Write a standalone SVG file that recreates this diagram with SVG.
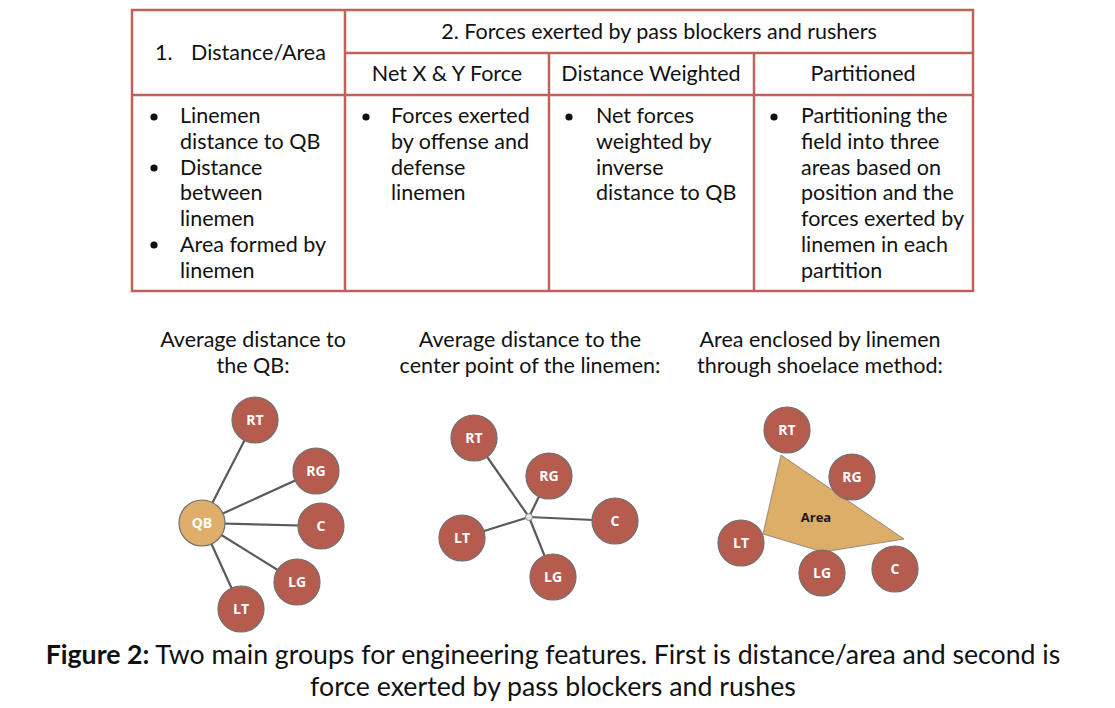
<svg xmlns="http://www.w3.org/2000/svg" width="1115" height="708" viewBox="0 0 1115 708">
  <style>
    .t { font-family: Lato, "Open Sans", "Liberation Sans", sans-serif; font-size: 21.5px; fill: #111; }
    .cap { font-family: Lato, "Open Sans", "Liberation Sans", sans-serif; font-size: 26.7px; fill: #111; }
    .grid { stroke: #c0615a; stroke-width: 2.5; fill: none; }
    .node { fill: #b65c4f; stroke: #6f6f6f; stroke-width: 1.2; }
    .qb { fill: #dfae6a; stroke: #6f6f6f; stroke-width: 1.2; }
    .lbl { font-family: "Open Sans", "Noto Sans", "Liberation Sans", sans-serif; font-size: 14px; font-weight: bold; fill: #fff; text-anchor: middle; }
    .edge { stroke: #5a5a5a; stroke-width: 2.2; stroke-linecap: round; }
  </style>

  <rect width="1115" height="708" fill="#fff"/>

  <!-- feature table -->
  <g id="table">
    <rect class="grid" x="132" y="10" width="841" height="281"/>
    <line class="grid" x1="345" y1="10" x2="345" y2="291"/>
    <line class="grid" x1="345" y1="53" x2="973" y2="53"/>
    <line class="grid" x1="132" y1="95" x2="973" y2="95"/>
    <line class="grid" x1="549" y1="53" x2="549" y2="291"/>
    <line class="grid" x1="754" y1="53" x2="754" y2="291"/>

    <text class="t" x="155" y="60">1.</text>
    <text class="t" x="191" y="60">Distance/Area</text>
    <text class="t" x="659" y="39" text-anchor="middle">2. Forces exerted by pass blockers and rushers</text>
    <text class="t" x="447" y="81" text-anchor="middle">Net X &amp; Y Force</text>
    <text class="t" x="651" y="81" text-anchor="middle">Distance Weighted</text>
    <text class="t" x="863" y="81" text-anchor="middle">Partitioned</text>

    <g class="t">
      <circle cx="154" cy="117" r="3.6" fill="#111"/>
      <circle cx="154" cy="168" r="3.6" fill="#111"/>
      <circle cx="154" cy="245" r="3.6" fill="#111"/>
      <text x="180" y="123">Linemen</text>
      <text x="180" y="149">distance to QB</text>
      <text x="180" y="175">Distance</text>
      <text x="180" y="200">between</text>
      <text x="180" y="226">linemen</text>
      <text x="180" y="252">Area formed by</text>
      <text x="180" y="278">linemen</text>

      <circle cx="366" cy="117" r="3.6" fill="#111"/>
      <text x="391" y="123">Forces exerted</text>
      <text x="391" y="149">by offense and</text>
      <text x="391" y="175">defense</text>
      <text x="391" y="200">linemen</text>

      <circle cx="569" cy="117" r="3.6" fill="#111"/>
      <text x="596" y="123">Net forces</text>
      <text x="596" y="149">weighted by</text>
      <text x="596" y="175">inverse</text>
      <text x="596" y="200">distance to QB</text>

      <circle cx="774" cy="117" r="3.6" fill="#111"/>
      <text x="801" y="123">Partitioning the</text>
      <text x="801" y="149">field into three</text>
      <text x="801" y="175">areas based on</text>
      <text x="801" y="200">position and the</text>
      <text x="801" y="226">forces exerted by</text>
      <text x="801" y="252">linemen in each</text>
      <text x="801" y="278">partition</text>
    </g>
  </g>

  <!-- panel titles -->
  <g id="titles" class="t" text-anchor="middle">
    <text x="253" y="347">Average distance to</text>
    <text x="253" y="373">the QB:</text>
    <text x="530" y="347">Average distance to the</text>
    <text x="530" y="373">center point of the linemen:</text>
    <text x="820" y="347">Area enclosed by linemen</text>
    <text x="820" y="373">through shoelace method:</text>
  </g>

  <!-- connectors -->
  <g id="connectors">
    <line class="edge" x1="202" y1="523" x2="255" y2="420"/>
    <line class="edge" x1="202" y1="523" x2="316" y2="471"/>
    <line class="edge" x1="202" y1="523" x2="321" y2="526"/>
    <line class="edge" x1="202" y1="523" x2="297" y2="582"/>
    <line class="edge" x1="202" y1="523" x2="241" y2="609"/>

    <line class="edge" x1="529" y1="517" x2="474" y2="438"/>
    <line class="edge" x1="529" y1="517" x2="549" y2="476"/>
    <line class="edge" x1="529" y1="517" x2="615" y2="521"/>
    <line class="edge" x1="529" y1="517" x2="462" y2="538"/>
    <line class="edge" x1="529" y1="517" x2="553" y2="577"/>
  </g>

  <!-- panel 1: distance to QB -->
  <g id="p1-rt"><circle class="node" cx="255" cy="420" r="23"/><text class="lbl" x="255" y="425">RT</text></g>
  <g id="p1-rg"><circle class="node" cx="316" cy="471" r="23"/><text class="lbl" x="316" y="476">RG</text></g>
  <g id="p1-c"><circle class="node" cx="321" cy="526" r="23"/><text class="lbl" x="321" y="531">C</text></g>
  <g id="p1-lg"><circle class="node" cx="297" cy="582" r="23"/><text class="lbl" x="297" y="587">LG</text></g>
  <g id="p1-lt"><circle class="node" cx="241" cy="609" r="23"/><text class="lbl" x="241" y="614">LT</text></g>
  <g id="p1-qb"><circle class="qb" cx="202" cy="523" r="23"/><text class="lbl" x="202" y="528">QB</text></g>

  <!-- panel 2: distance to center point -->
  <g id="p2-center"><circle cx="529" cy="517" r="3.5" fill="#e6e6e6" stroke="#888" stroke-width="1"/></g>
  <g id="p2-rt"><circle class="node" cx="474" cy="438" r="23"/><text class="lbl" x="474" y="443">RT</text></g>
  <g id="p2-rg"><circle class="node" cx="549" cy="476" r="23"/><text class="lbl" x="549" y="481">RG</text></g>
  <g id="p2-c"><circle class="node" cx="615" cy="521" r="23"/><text class="lbl" x="615" y="526">C</text></g>
  <g id="p2-lt"><circle class="node" cx="462" cy="538" r="23"/><text class="lbl" x="462" y="543">LT</text></g>
  <g id="p2-lg"><circle class="node" cx="553" cy="577" r="23"/><text class="lbl" x="553" y="582">LG</text></g>

  <!-- panel 3: shoelace area -->
  <g id="p3-area">
    <polygon points="781,455 763,534 823,552 904,539" fill="#ddae68" stroke="#7a7a7a" stroke-width="0.8"/>
    <text x="816" y="522" text-anchor="middle" font-family="'Open Sans','Noto Sans','Liberation Sans',sans-serif" font-size="13" font-weight="bold" fill="#1a1a1a">Area</text>
  </g>
  <g id="p3-rt"><circle class="node" cx="787" cy="430" r="23"/><text class="lbl" x="787" y="435">RT</text></g>
  <g id="p3-rg"><circle class="node" cx="852" cy="477" r="23"/><text class="lbl" x="852" y="482">RG</text></g>
  <g id="p3-lt"><circle class="node" cx="741" cy="543" r="23"/><text class="lbl" x="741" y="548">LT</text></g>
  <g id="p3-lg"><circle class="node" cx="822" cy="573" r="23"/><text class="lbl" x="822" y="578">LG</text></g>
  <g id="p3-c"><circle class="node" cx="895" cy="569" r="23"/><text class="lbl" x="895" y="574">C</text></g>

  <!-- figure caption -->
  <g id="caption" class="cap" text-anchor="middle">
    <text x="553" y="664"><tspan font-weight="bold">Figure 2:</tspan> Two main groups for engineering features. First is distance/area and second is</text>
    <text x="553" y="696">force exerted by pass blockers and rushes</text>
  </g>
</svg>
